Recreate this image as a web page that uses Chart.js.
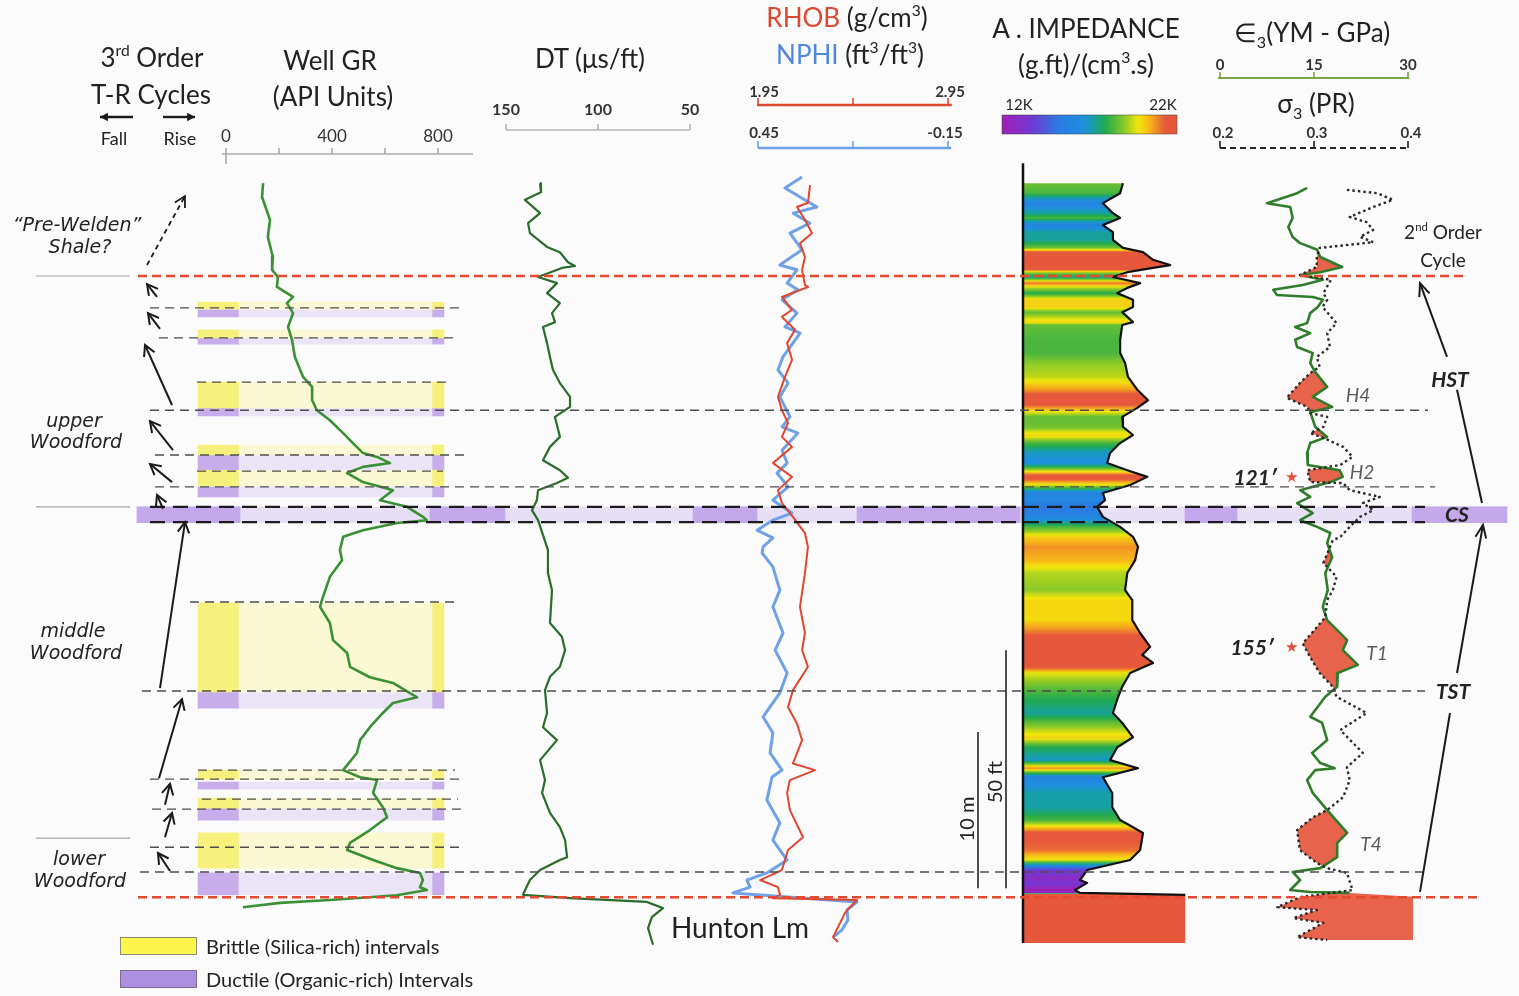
<!DOCTYPE html>
<html>
<head>
<meta charset="utf-8">
<script src="https://cdn.jsdelivr.net/npm/chart.js@4.4.1/dist/chart.umd.min.js"></script>
<style>
  html, body { margin: 0; padding: 0; background: #fbfbfc; }
  #wrap { position: relative; width: 1519px; height: 996px; overflow: hidden; background: #fbfbfc;
          font-family: Lato, "Open Sans", sans-serif; color: #222; }
  #plot { position: absolute; left: 0; top: 0; width: 1519px; height: 996px; }
  .t { position: absolute; transform: translate(-50%, -50%); white-space: nowrap; line-height: 1; }
  .h { font-size: 26px; }
  .fm { font-family: "DejaVu Sans", sans-serif; font-style: italic; font-size: 19px; }
  .sq { font-style: italic; font-weight: bold; font-size: 21px; }
  .hz { font-style: italic; font-size: 19px; color: #5a5a5a; }
  .rot { transform: translate(-50%, -50%) rotate(-90deg); font-size: 20px; }
  sup { font-size: 0.6em; vertical-align: 0.7em; line-height: 0; }
  sub { font-size: 0.62em; vertical-align: -0.35em; line-height: 0; }
  .sw { position: absolute; width: 75px; height: 16px; border: 1px solid #8c8c7a; }
  .lg { position: absolute; font-size: 20px; transform: translateY(-50%); white-space: nowrap; }
</style>
</head>
<body>
<div id="wrap">
  <div id="plot"><canvas id="c"></canvas></div>

  <!-- track headers -->
  <div class="t h" style="left:152px;top:57px">3<sup>rd</sup> Order</div>
  <div class="t h" style="left:151px;top:94px">T-R Cycles</div>
  <div class="t" style="left:114px;top:138px;font-size:18px">Fall</div>
  <div class="t" style="left:180px;top:138px;font-size:18px">Rise</div>
  <div class="t h" style="left:330px;top:60px">Well GR</div>
  <div class="t h" style="left:333px;top:96px">(API Units)</div>
  <div class="t h" style="left:590px;top:58px">DT (μs/ft)</div>
  <div class="t h" style="left:847px;top:17px"><span style="color:#e0472f">RHOB</span> (g/cm<sup>3</sup>)</div>
  <div class="t h" style="left:850px;top:54px"><span style="color:#4f86e0">NPHI</span> (ft<sup>3</sup>/ft<sup>3</sup>)</div>
  <div class="t h" style="left:1086px;top:28px">A . IMPEDANCE</div>
  <div class="t h" style="left:1086px;top:64px">(g.ft)/(cm<sup>3</sup>.s)</div>
  <div class="t" style="left:1019px;top:104px;font-size:15px">12K</div>
  <div class="t" style="left:1163px;top:104px;font-size:15px">22K</div>
  <div class="t h" style="left:1312px;top:32px">∈<sub>3</sub>(YM - GPa)</div>
  <div class="t h" style="left:1316px;top:103px">σ<sub>3</sub> (PR)</div>

  <!-- formation names -->
  <div class="t fm" style="left:77px;top:224px">“Pre-Welden”</div>
  <div class="t fm" style="left:80px;top:246px">Shale?</div>
  <div class="t fm" style="left:74px;top:420px">upper</div>
  <div class="t fm" style="left:76px;top:441px">Woodford</div>
  <div class="t fm" style="left:73px;top:630px">middle</div>
  <div class="t fm" style="left:76px;top:652px">Woodford</div>
  <div class="t fm" style="left:79px;top:858px">lower</div>
  <div class="t fm" style="left:80px;top:880px">Woodford</div>

  <!-- sequence annotations -->
  <div class="t" style="left:1443px;top:231px;font-size:19px">2<sup>nd</sup> Order</div>
  <div class="t" style="left:1443px;top:259px;font-size:19px">Cycle</div>
  <div class="t sq" style="left:1450px;top:378px">HST</div>
  <div class="t sq" style="left:1453px;top:690px">TST</div>
  <div class="t sq" style="left:1457px;top:513px">CS</div>
  <div class="t hz" style="left:1358px;top:394px">H4</div>
  <div class="t hz" style="left:1362px;top:471px">H2</div>
  <div class="t hz" style="left:1377px;top:652px">T1</div>
  <div class="t hz" style="left:1371px;top:843px">T4</div>
  <div class="t sq" style="left:1255px;top:476px">121′</div>
  <div class="t" style="left:1291px;top:476px;font-size:15px;color:#e0503a">★</div>
  <div class="t sq" style="left:1252px;top:646px">155′</div>
  <div class="t" style="left:1291px;top:646px;font-size:15px;color:#e0503a">★</div>

  <div class="t" style="left:740px;top:927px;font-size:28px">Hunton Lm</div>
  <div class="t rot" style="left:966px;top:819px">10 m</div>
  <div class="t rot" style="left:994px;top:782px">50 ft</div>

  <!-- legend -->
  <div class="sw" style="left:120px;top:937px;background:#fcf54a"></div>
  <div class="lg" style="left:206px;top:946px">Brittle (Silica-rich) intervals</div>
  <div class="sw" style="left:120px;top:970px;background:#ab90e2;border-color:#7a6e8c"></div>
  <div class="lg" style="left:206px;top:979px">Ductile (Organic-rich) Intervals</div>
</div>

<script>
const W = 1519, H = 996;
// depth axis: feet below the top of the Woodford
const TOP_PX = 276, PX_PER_FT = 4.76;

// ---------- log readings ----------
const grDepth = [-19.5,-16.6,-11.8,-8.2,-4.0,-1.3,0.2,2.3,4.4,5.7,7.8,10.7,13.4,17.0,21.2,23.3,26.1,28.2,30.3,33.0,
  35.1,37.2,38.0,39.3,40.1,41.4,43.3,45.0,47.1,48.5,50.6,51.3,51.9,53.4,54.8,57.6,59.7,63.2,68.1,69.5,
  72.9,76.5,79.2,82.1,84.3,85.5,88.5,89.7,91.8,94.8,97.5,100.2,103.8,105.3,105.9,108.6,111.6,113.7,116.4,119.1,
  120.6,122.7,124.4,125.4,126.9,128.4,129.0,130.1,131.1,131.7,132.6];
const grApi = [140,136,166,158,177,174,196,192,253,230,253,234,249,260,291,325,325,343,392,442,
  479,517,570,619,517,457,517,630,581,683,743,758,645,517,442,430,438,392,362,355,
  392,404,457,468,543,630,721,630,592,543,506,494,442,506,570,555,592,608,543,468,
  457,555,645,732,743,732,758,645,392,204,64];

const dtDepth = [-19.5,-17.6,-16.0,-13.2,-11.1,-9.0,-6.1,-5.0,-2.9,-2.1,-1.7,0.2,1.5,3.6,5.7,7.8,9.7,10.7,14.1,17.0,
  19.7,22.5,25.4,27.5,29.6,33.8,35.9,38.7,40.8,42.4,43.5,45.0,47.1,49.2,51.3,57.6,62.4,66.0,72.9,75.8,
  78.6,82.1,84.2,87.0,91.8,94.8,97.5,101.7,105.9,108.6,112.8,115.8,118.5,122.1,122.7,124.8,126.9,130.0,130.7,131.5,
  132.8,134.7,137.0,140.5];
const dtUsft = [131.5,131.0,139.7,131.5,138.0,137.0,127.7,120.7,116.3,112.5,119.6,132.6,122.3,127.7,120.7,125.0,123.4,129.9,127.7,126.1,
  124.5,120.7,115.2,115.2,123.4,120.7,126.1,129.9,120.7,116.3,122.3,132.6,133.2,135.9,132.6,127.2,127.2,125.0,126.1,119.6,
  117.9,120.7,126.1,128.8,127.7,129.9,122.3,131.5,128.8,130.4,126.1,120.7,117.9,116.8,120.7,131.5,137.0,140.8,115.2,73.4,
  64.7,70.7,72.8,70.1];

const rhobDepth = [-19.1,-15.4,-14.5,-11.8,-9.0,-6.9,-4.0,-1.3,1.9,2.3,4.4,7.1,8.6,11.3,14.1,17.6,21.2,25.4,28.2,30.9,
  33.8,35.9,39.3,42.2,45.0,47.7,50.6,54.0,56.9,62.4,69.5,75.0,78.6,82.1,87.0,90.6,94.0,97.5,102.4,103.8,
  105.9,108.6,112.2,117.9,120.6,124.8,126.9,128.4,130.0,130.7,131.1,132.6,133.8,136.8,138.9,139.9];
const rhobGcc = [2.224,2.213,2.155,2.197,2.234,2.171,2.197,2.182,2.197,2.213,2.076,2.129,2.076,2.145,2.103,2.129,2.092,2.055,2.076,2.108,
  2.076,2.129,2.029,2.129,2.055,2.076,2.134,2.197,2.213,2.197,2.171,2.197,2.182,2.213,2.134,2.108,2.155,2.182,2.134,2.250,
  2.118,2.103,2.118,2.187,2.108,2.076,1.961,2.055,2.066,2.029,2.471,2.434,2.408,2.371,2.345,2.371];

const nphiDepth = [-20.8,-18.5,-14.5,-13.2,-11.1,-9.0,-5.5,-2.3,-1.3,1.5,2.9,5.0,7.8,10.7,12.0,17.0,19.7,22.5,25.4,29.6,
  31.7,33.0,36.6,39.3,41.4,44.3,47.1,49.8,51.3,53.4,55.0,56.9,58.2,61.1,66.0,69.5,75.0,78.6,83.4,87.6,
  92.6,96.0,100.2,103.8,105.3,110.1,114.9,118.5,122.7,125.4,126.9,128.4,129.6,131.5,133.2,135.3,137.4,138.9];
const nphiFrac = [0.311,0.365,0.264,0.339,0.286,0.349,0.311,0.381,0.327,0.358,0.324,0.374,0.327,0.365,0.317,0.371,0.387,0.355,0.381,0.349,
  0.374,0.324,0.374,0.358,0.390,0.355,0.403,0.343,0.403,0.453,0.403,0.434,0.437,0.403,0.381,0.403,0.371,0.396,0.358,0.381,
  0.434,0.403,0.412,0.374,0.406,0.422,0.381,0.403,0.358,0.422,0.485,0.475,0.529,0.137,0.169,0.166,0.185,0.213];

// acoustic impedance, thousands of (g.ft)/(cm3.s)
const aiDepth = [-19.5,-17.4,-15.3,-13.2,-12.2,-10.7,-9.2,-7.6,-5.9,-5.0,-3.4,-2.3,-1.7,-0.8,0.2,1.5,2.5,3.6,5.0,6.5,
  7.6,9.7,10.3,13.4,16.2,18.3,21.2,23.9,26.1,27.7,29.6,31.7,33.4,35.1,37.2,39.3,40.8,42.2,43.9,45.6,
  47.1,48.5,50.6,52.7,54.8,56.9,59.7,62.4,66.0,68.1,72.3,75.0,77.9,79.6,81.3,83.4,86.3,88.5,91.8,93.9,
  96.9,99.0,101.7,103.4,105.3,108.6,111.6,114.3,115.8,117.0,120.6,122.7,124.8,126.9,127.5,129.0,129.6,130.0,140.1];
const aiK = [18.7,18.3,15.9,17.3,18.3,15.9,17.3,17.3,18.7,21.5,22.9,25.3,22.9,19.3,17.3,21.1,19.3,17.9,20.1,20.1,
  18.6,20.1,18.6,18.3,18.3,19.0,19.4,20.7,22.2,20.7,18.6,18.7,20.1,18.3,16.9,16.5,19.3,22.1,19.7,15.9,
  16.2,15.1,15.9,18.3,20.1,20.8,20.4,19.3,19.0,20.0,20.0,21.1,22.5,21.4,22.9,19.7,18.6,18.0,17.3,18.6,
  20.1,17.9,16.9,20.8,15.9,17.2,17.2,18.3,20.1,21.5,21.1,19.7,13.7,12.7,13.7,12.0,12.7,27.4,27.4];

// Young's modulus (GPa) and Poisson's ratio
const ymDepth = [-18.5,-17.4,-15.3,-14.5,-12.2,-10.3,-8.2,-6.9,-5.5,-4.0,-1.9,-0.8,-0.2,0.8,1.9,2.9,4.0,4.4,5.0,6.5,
  7.8,9.9,10.7,12.0,13.4,14.9,16.2,18.3,20.2,23.3,25.4,27.5,28.6,31.7,33.8,35.1,37.2,39.7,40.8,42.2,
  43.3,45.0,46.4,47.7,49.8,51.3,52.7,54.0,56.1,59.1,62.4,66.0,69.5,72.3,76.5,78.6,81.7,83.4,86.3,88.4,
  92.6,93.9,97.5,100.2,102.3,103.4,103.8,105.9,108.6,112.2,117.0,119.1,122.1,124.4,125.2,126.9,129.0,129.4,129.6,130.4,140.1];
const ymGpa = [13.9,12.3,7.5,11.2,11.6,10.9,11.6,12.8,15.5,16.0,19.5,16.0,12.8,16.4,13.2,8.5,9.1,14.8,16.4,15.6,
  14.4,13.9,12.0,14.4,12.0,12.3,14.8,14.4,15.2,17.1,14.8,17.9,14.4,15.2,17.1,14.4,13.9,14.0,19.1,19.6,
  17.6,12.8,14.4,12.3,14.8,12.8,15.5,17.6,17.1,17.9,16.8,17.2,16.4,17.1,20.3,19.6,22.0,18.8,18.7,16.8,
  14.4,16.3,17.1,14.7,16.0,18.3,15.2,13.9,14.8,17.1,20.3,18.7,18.7,16.0,11.6,12.8,11.2,14.4,20.7,30.8,30.8];

const prDepth = [-18.1,-17.4,-16.0,-14.5,-12.4,-11.3,-9.7,-8.2,-7.1,-5.9,-4.0,-1.9,-0.2,0.8,3.6,5.0,6.5,9.9,12.0,14.9,17.0,
  19.1,20.4,22.5,25.6,27.5,28.8,29.6,31.7,33.0,34.0,35.9,38.0,39.7,40.8,43.3,43.5,45.0,46.4,47.7,49.2,
  50.6,52.7,54.8,55.5,60.3,63.2,66.0,68.1,71.7,73.8,77.2,80.1,83.4,86.3,88.4,91.8,95.4,100.2,103.2,105.9,
  109.5,112.2,113.7,116.4,120.6,123.3,124.4,125.4,129.0,130.5,132.6,133.2,134.9,135.9,138.9,139.5];
const prRatio = [0.335,0.367,0.384,0.363,0.338,0.356,0.363,0.349,0.363,0.306,0.303,0.303,0.285,0.318,0.310,0.314,0.309,0.324,0.314,0.317,0.303,
  0.306,0.296,0.285,0.271,0.293,0.296,0.314,0.310,0.296,0.310,0.331,0.341,0.328,0.293,0.296,0.331,0.338,0.370,0.352,0.363,
  0.349,0.338,0.328,0.320,0.310,0.324,0.320,0.314,0.312,0.303,0.288,0.296,0.306,0.320,0.324,0.356,0.328,0.352,0.335,0.338,
  0.331,0.314,0.299,0.282,0.285,0.303,0.314,0.335,0.341,0.285,0.261,0.303,0.278,0.310,0.282,0.314];

// ---------- intervals and surfaces (ft) ----------
const brittleIntervals = [[5.5,6.9],[11.3,13.0],[22.3,27.7],[35.5,37.6],[40.8,44.1],[68.7,87.4],[103.8,105.7],[109.7,111.8],[117.0,124.4]];
const ductileIntervals = [[7.1,8.6],[13.0,14.3],[27.7,29.4],[37.6,40.8],[44.3,46.4],[87.4,90.8],[106.3,107.8],[111.8,114.3],[125.4,130.0]];
const condensedSection = [48.5, 51.8];
const horizonDepths = [6.7,13.0,22.3,28.2,37.6,41.0,44.3,68.5,87.2,103.8,105.7,109.9,112.0,120.0,125.2];
const woodfordTop = 0.0, huntonTop = 130.5;
const unitBreaks = [0.0, 48.5, 118.1];

// ---------- header scale ticks ----------
const grTicks = [0,200,400,600,800], grTickLabels = [0,400,800];
const dtTicks = [150,100,50];
const rhobTicks = [1.95,2.45,2.95], rhobTickLabels = [1.95,2.95];
const nphiTicks = [0.45,0.15,-0.15], nphiTickLabels = [0.45,-0.15];
const ymTicks = [0,15,30];
const prTicks = [0.2,0.3,0.4];
const aiBarRange = [12, 22];

// ---------- layout ----------
const yMin = -TOP_PX / PX_PER_FT, yMax = (H - TOP_PX) / PX_PER_FT;
function trackScale(vL, vR, pxL, pxR) {
  const a = (vR - vL) / (pxR - pxL);
  const v0 = vL - pxL * a, v1 = vL + (W - pxL) * a;
  return { type: 'linear', display: false, offset: false, bounds: 'data', reverse: a < 0,
           min: Math.min(v0, v1), max: Math.max(v0, v1) };
}
const scales = {
  y:     { type: 'linear', display: false, offset: false, bounds: 'data', reverse: true, min: yMin, max: yMax },
  xPage: trackScale(0, W, 0, W),
  xGR:   trackScale(0, 800, 226, 438),
  xDT:   trackScale(150, 50, 506, 690),
  xRHOB: trackScale(1.95, 2.95, 758, 948),
  xNPHI: trackScale(0.45, -0.15, 758, 948),
  xAI:   trackScale(12, 22, 1075, 1146.6),
  xCB:   trackScale(aiBarRange[0], aiBarRange[1], 1002, 1177),
  xYM:   trackScale(0, 30, 1220, 1408),
  xPR:   trackScale(0.2, 0.4, 1220, 1408)
};
const AI_BASE = 4.74;   // impedance at the track's left wall

// impedance colour map (K units)
const AI_STOPS = [[11.8,[166,28,178]],[13.7,[112,58,212]],[15.3,[40,124,226]],[16.6,[30,142,222]],[17.2,[22,160,168]],
                  [17.9,[34,170,76]],[19.0,[140,201,40]],[19.8,[244,232,10]],[20.6,[246,166,30]],[21.3,[229,88,60]]];
function aiColor(v) {
  if (v <= AI_STOPS[0][0]) return `rgb(${AI_STOPS[0][1]})`;
  for (let i = 1; i < AI_STOPS.length; i++) {
    if (v <= AI_STOPS[i][0]) {
      const [a, ca] = AI_STOPS[i - 1], [b, cb] = AI_STOPS[i], t = (v - a) / (b - a);
      return `rgb(${ca.map((c, k) => Math.round(c + (cb[k] - c) * t)).join(',')})`;
    }
  }
  return `rgb(${AI_STOPS[AI_STOPS.length - 1][1]})`;
}

const pts = (depth, vals) => depth.map((d, i) => ({ x: vals[i], y: d }));
function curve(label, xAxisID, depth, vals, s) {
  return Object.assign({ type: 'scatter', label, xAxisID, yAxisID: 'y', showLine: true, fill: false,
    pointRadius: 0, pointHoverRadius: 0, tension: 0, borderJoinStyle: 'round',
    data: pts(depth, vals) }, s);
}
function hline(label, depth, span, s) {
  return Object.assign({ type: 'scatter', label, xAxisID: 'xPage', yAxisID: 'y', showLine: true,
    pointRadius: 0, pointHoverRadius: 0, data: [{ x: span[0], y: depth }, { x: span[1], y: depth }] }, s);
}
function band(label, intervals, span, color, order) {
  return { type: 'bar', label, xAxisID: 'xPage', yAxisID: 'y', grouped: false, order,
    barThickness: span[1] - span[0], backgroundColor: color, borderWidth: 0,
    data: intervals.map(([t, b]) => ({ x: (span[0] + span[1]) / 2, y: [t, b] })) };
}

const bandLeft = [198, 239], bandMid = [239, 432], bandRight = [432, 444];
const csSpan = [137, 1507];
const csStrong = [[137,240],[430,505],[693,757],[857,1020],[1185,1237],[1412,1507]];
const horizonSpans = [[150,463],[159,453],[197,447],[150,1428],[155,468],[197,443],[155,1435],[190,460],
                      [142,1425],[198,455],[150,463],[202,458],[152,465],[150,463],[140,1425]];
const thinDash = { borderColor: '#4d4d4d', borderWidth: 1.4, borderDash: [9, 6], order: 3 };
const wallSpan = [-23.7, 140.1];   // depth extent of the impedance column wall

const datasets = [
  band('brittle-mid', brittleIntervals, bandMid, '#fbf9d3', 30),
  band('brittle-left', brittleIntervals, bandLeft, '#f6f17c', 30),
  band('brittle-right', brittleIntervals, bandRight, '#f6f17c', 30),
  band('ductile-mid', ductileIntervals, bandMid, '#ebe4f6', 30),
  band('ductile-left', ductileIntervals, bandLeft, '#c7aeea', 30),
  band('ductile-right', ductileIntervals, bandRight, '#c7aeea', 30),
  band('cs', [condensedSection], csSpan, '#e7dff6', 31),
  ...csStrong.map((s, i) => band('cs-' + i, [condensedSection], s, '#c4a8ec', 30)),

  curve('AI', 'xAI', aiDepth, aiK, { borderColor: '#111', borderWidth: 2.2, order: 20, paint: 'ai',
    segment: { borderColor: c => aiDepth[c.p0DataIndex] >= 130 ? 'rgba(0,0,0,0)' : '#111' } }),
  curve('GR', 'xGR', grDepth, grApi, { borderColor: '#3a9133', borderWidth: 2.6, order: 10 }),
  curve('DT', 'xDT', dtDepth, dtUsft, { borderColor: '#2a6c2a', borderWidth: 2.2, order: 10 }),
  curve('NPHI', 'xNPHI', nphiDepth, nphiFrac, { borderColor: '#6fa1e8', borderWidth: 3, order: 10 }),
  curve('RHOB', 'xRHOB', rhobDepth, rhobGcc, { borderColor: '#e0472f', borderWidth: 2, order: 9 }),
  curve('YM', 'xYM', ymDepth, ymGpa, { borderColor: '#2f7d2a', borderWidth: 2.6, order: 12, paint: 'crossover',
    segment: { borderColor: c => ymDepth[c.p0DataIndex] >= 129.6 ? 'rgba(0,0,0,0)' : '#2f7d2a' } }),
  curve('PR', 'xPR', prDepth, prRatio, { borderColor: '#2a2a2a', borderWidth: 2.4, borderDash: [2.5, 3], order: 11 }),

  { type: 'scatter', label: 'AI-wall', xAxisID: 'xPage', yAxisID: 'y', showLine: true, pointRadius: 0, order: 8,
    borderColor: '#111', borderWidth: 2.5, data: [{ x: 1023, y: wallSpan[0] }, { x: 1023, y: wallSpan[1] }] },
  ...horizonDepths.map((d, i) => hline('horizon-' + i, d, horizonSpans[i], thinDash)),
  hline('cs-top', condensedSection[0], [150, 1425], { borderColor: '#1c1c1c', borderWidth: 2.4, borderDash: [15, 8], order: 3 }),
  hline('cs-base', 51.7, [150, 1425], { borderColor: '#1c1c1c', borderWidth: 2.4, borderDash: [15, 8], order: 3 }),
  hline('woodford-top', woodfordTop, [138, 1465], { borderColor: '#e24a32', borderWidth: 2.6, borderDash: [9, 5], order: 2 }),
  hline('hunton-top', huntonTop, [138, 1480], { borderColor: '#e24a32', borderWidth: 2.6, borderDash: [9, 5], order: 2 }),
  ...unitBreaks.map((d, i) => hline('unit-' + i, d, [36, 130], { borderColor: '#a5a5a5', borderWidth: 1.2, order: 3 }))
];

// ---------- painters ----------
function paintImpedance(chart, meta) {
  const ctx = chart.ctx, p = meta.data;
  const base = chart.scales.xAI.getPixelForValue(AI_BASE);
  const top = p[0].y, bot = p[p.length - 1].y, span = bot - top;
  const g = ctx.createLinearGradient(0, top, 0, bot);
  for (let i = 0; i < p.length; i++) {
    const f0 = (p[i].y - top) / span;
    g.addColorStop(Math.min(1, Math.max(0, f0)), aiColor(aiK[i]));
    if (i < p.length - 1) {
      const f1 = (p[i + 1].y - top) / span;
      for (let k = 1; k < 5; k++) {
        const t = k / 5;
        g.addColorStop(Math.min(1, f0 + (f1 - f0) * t), aiColor(aiK[i] + (aiK[i + 1] - aiK[i]) * t));
      }
    }
  }
  ctx.save();
  ctx.beginPath();
  ctx.moveTo(base, top);
  p.forEach(q => ctx.lineTo(q.x, q.y));
  ctx.lineTo(base, bot);
  ctx.closePath();
  ctx.fillStyle = g;
  ctx.fill();
  ctx.restore();
}
function paintCrossover(chart) {
  const idx = l => chart.data.datasets.findIndex(d => d.label === l);
  const ym = chart.getDatasetMeta(idx('YM')).data, pr = chart.getDatasetMeta(idx('PR')).data;
  const ctx = chart.ctx;
  ctx.save();
  ctx.beginPath();                       // region right of the PR curve
  ctx.moveTo(pr[0].x, pr[0].y);
  pr.forEach(q => ctx.lineTo(q.x, q.y));
  ctx.lineTo(W + 20, pr[pr.length - 1].y);
  ctx.lineTo(W + 20, pr[0].y);
  ctx.closePath();
  ctx.clip();
  ctx.beginPath();                       // region left of the YM curve
  ctx.moveTo(ym[0].x, ym[0].y);
  ym.forEach(q => ctx.lineTo(q.x, q.y));
  ctx.lineTo(-20, ym[ym.length - 1].y);
  ctx.lineTo(-20, ym[0].y);
  ctx.closePath();
  ctx.fillStyle = '#e8634c';
  ctx.fill();
  ctx.restore();
}

const headerAxes = [
  { scale: 'xGR', y: 154, span: [-15, 932], ticks: grTicks, labels: grTickLabels.map(v => ({ v, text: String(v) })),
    color: '#ababab', lw: 1.6, tick: 6, labelY: 137, font: '17px Lato', first: 10 },
  { scale: 'xDT', y: 130, span: [150, 50], ticks: dtTicks, labels: dtTicks.map(v => ({ v, text: String(v) })),
    color: '#b5b5b5', lw: 1.6, tick: 6, labelY: 110, font: 'bold 16px Lato' },
  { scale: 'xRHOB', y: 105, span: [1.945, 2.97], ticks: rhobTicks, labels: rhobTickLabels.map(v => ({ v, text: v.toFixed(2), dx: v < 2 ? 6 : 2 })),
    color: '#e0472f', lw: 2.6, tick: 7, labelY: 92, font: 'bold 15px Lato' },
  { scale: 'xNPHI', y: 148, span: [0.45, -0.16], ticks: nphiTicks, labels: nphiTickLabels.map(v => ({ v, text: v.toFixed(2), dx: v > 0 ? 6 : -3 })),
    color: '#6fa1e8', lw: 2.6, tick: 7, labelY: 133, font: 'bold 15px Lato' },
  { scale: 'xYM', y: 78, span: [-0.3, 30.2], ticks: ymTicks, labels: ymTicks.map(v => ({ v, text: String(v) })),
    color: '#79a346', lw: 2.2, tick: 6, labelY: 65, font: 'bold 15px Lato' },
  { scale: 'xPR', y: 148, span: [0.2, 0.4], ticks: prTicks, labels: prTicks.map(v => ({ v, text: v.toFixed(1), dx: 3 })),
    color: '#222', lw: 2, dash: [6, 4], tick: 7, labelY: 133, font: 'bold 15px Lato' }
];

function arrow(ctx, x1, y1, x2, y2, o = {}) {
  const head = o.head || 11, sp = o.spread || 0.45, ang = Math.atan2(y2 - y1, x2 - x1);
  ctx.save();
  ctx.strokeStyle = ctx.fillStyle = o.color || '#1a1a1a';
  ctx.lineWidth = o.lw || 2;
  ctx.setLineDash(o.dash || []);
  ctx.beginPath(); ctx.moveTo(x1, y1); ctx.lineTo(x2, y2); ctx.stroke();
  ctx.setLineDash([]);
  ctx.beginPath();
  ctx.moveTo(x2 - head * Math.cos(ang - sp), y2 - head * Math.sin(ang - sp));
  ctx.lineTo(x2, y2);
  ctx.lineTo(x2 - head * Math.cos(ang + sp), y2 - head * Math.sin(ang + sp));
  if (o.filled) { ctx.closePath(); ctx.fill(); } else ctx.stroke();
  ctx.restore();
}

// third-order T-R cycle arrows: [x tail, depth tail, x head, depth head]
const trArrows = [[157,4.4,147,1.7],[160,11.1,148,7.8],[172,27.1,145,14.5],[173,36.6,150,30.5],[172,43.3,150,39.5],
                  [163,48.9,157,46.0],[160,86.6,185,51.7],[159,105.5,182,88.9],[165,111.1,170,106.7],[165,117.9,172,112.8],[170,125.0,158,121.2]];

const trackPainter = {
  id: 'trackPainter',
  beforeDatasetDraw(chart, args) {
    const ds = chart.data.datasets[args.index];
    if (ds.paint === 'ai') paintImpedance(chart, args.meta);
    if (ds.paint === 'crossover') paintCrossover(chart);
  },
  afterDraw(chart) {
    const ctx = chart.ctx, y = chart.scales.y;
    // header scales
    headerAxes.forEach(a => {
      const s = chart.scales[a.scale];
      ctx.save();
      ctx.strokeStyle = a.color; ctx.lineWidth = a.lw; ctx.setLineDash(a.dash || []);
      ctx.beginPath(); ctx.moveTo(s.getPixelForValue(a.span[0]), a.y); ctx.lineTo(s.getPixelForValue(a.span[1]), a.y); ctx.stroke();
      ctx.setLineDash([]); ctx.lineWidth = 1.6;
      a.ticks.forEach((v, i) => {
        const x = s.getPixelForValue(v);
        ctx.beginPath(); ctx.moveTo(x, a.y + (i === 0 && a.first ? a.first : 0)); ctx.lineTo(x, a.y - a.tick); ctx.stroke();
      });
      ctx.fillStyle = '#333'; ctx.font = a.font; ctx.textAlign = 'center'; ctx.textBaseline = 'middle';
      a.labels.forEach(l => ctx.fillText(l.text, s.getPixelForValue(l.v) + (l.dx || 0), a.labelY));
      ctx.restore();
    });
    // impedance colour bar
    const cb = chart.scales.xCB, x0 = cb.getPixelForValue(aiBarRange[0]), x1 = cb.getPixelForValue(aiBarRange[1]);
    const g = ctx.createLinearGradient(x0, 0, x1, 0);
    for (let v = aiBarRange[0]; v <= aiBarRange[1] + 1e-9; v += 0.25) g.addColorStop((v - aiBarRange[0]) / (aiBarRange[1] - aiBarRange[0]), aiColor(v));
    ctx.save(); ctx.fillStyle = g; ctx.fillRect(x0, 115, x1 - x0, 19);
    ctx.strokeStyle = 'rgba(60,60,60,0.5)'; ctx.lineWidth = 1; ctx.strokeRect(x0, 115, x1 - x0, 19); ctx.restore();

    // fall / rise
    arrow(ctx, 133, 117, 100, 117, { lw: 2.4, head: 9, spread: 0.5, filled: true });
    arrow(ctx, 163, 117, 195, 117, { lw: 2.4, head: 9, spread: 0.5, filled: true });
    // T-R cycles
    trArrows.forEach(([xa, da, xb, db]) => arrow(ctx, xa, y.getPixelForValue(da), xb, y.getPixelForValue(db), { lw: 2, head: 12, spread: 0.5 }));
    arrow(ctx, 147, y.getPixelForValue(-2.3), 185, y.getPixelForValue(-16.8), { lw: 1.8, head: 12, spread: 0.5, dash: [5, 4] });
    // second-order cycle
    ctx.save(); ctx.strokeStyle = '#1a1a1a'; ctx.lineWidth = 2;
    ctx.beginPath(); ctx.moveTo(1482, y.getPixelForValue(47.7)); ctx.lineTo(1457, y.getPixelForValue(23.9)); ctx.stroke();
    ctx.beginPath(); ctx.moveTo(1420, y.getPixelForValue(129.4)); ctx.lineTo(1450, y.getPixelForValue(91.8)); ctx.stroke();
    ctx.restore();
    arrow(ctx, 1447, y.getPixelForValue(17.0), 1420, y.getPixelForValue(1.5), { lw: 2, head: 14, spread: 0.4 });
    arrow(ctx, 1457, y.getPixelForValue(83.4), 1483, y.getPixelForValue(52.3), { lw: 2, head: 14, spread: 0.4 });
    // vertical scale bars (10 m and 50 ft)
    const barBase = 128.6;
    ctx.save(); ctx.strokeStyle = '#222'; ctx.lineWidth = 1.6;
    ctx.beginPath(); ctx.moveTo(978, y.getPixelForValue(barBase)); ctx.lineTo(978, y.getPixelForValue(barBase - 32.81)); ctx.stroke();
    ctx.beginPath(); ctx.moveTo(1006, y.getPixelForValue(barBase)); ctx.lineTo(1006, y.getPixelForValue(barBase - 50)); ctx.stroke();
    ctx.restore();
  }
};

new Chart(document.getElementById('c'), {
  type: 'scatter',
  data: { datasets },
  options: {
    responsive: true, maintainAspectRatio: false, animation: false, events: [],
    layout: { padding: 0 },
    plugins: { legend: { display: false }, tooltip: { enabled: false } },
    scales
  },
  plugins: [trackPainter]
});
</script>
</body>
</html>
